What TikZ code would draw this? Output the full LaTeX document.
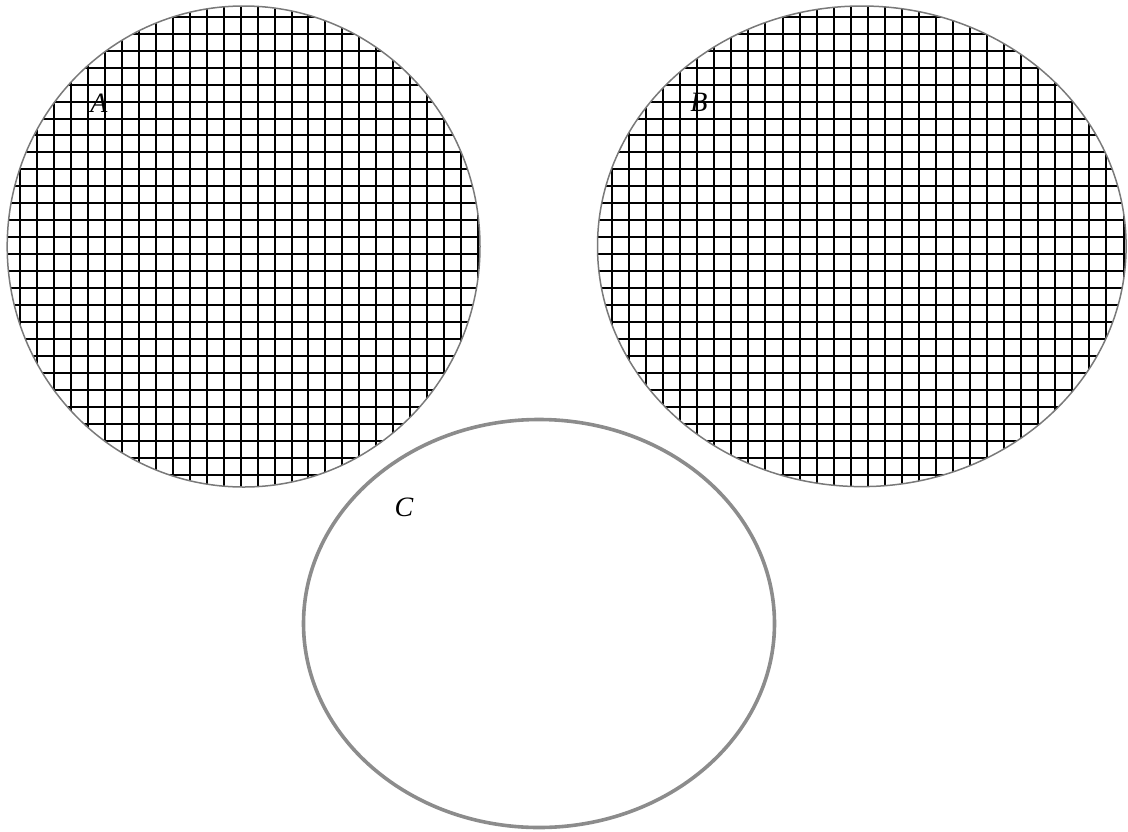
\documentclass[tikz,border=0pt]{standalone}
\usepackage{fontspec}
\setmainfont{Liberation Serif}
\begin{document}
\begin{tikzpicture}[x=1pt,y=-1pt,
  gridline/.style={black,line width=2.1pt},
  thinrim/.style={draw=gray!95!black,line width=1.5pt},
  thickrim/.style={draw=gray!90!white,line width=3.6pt},
  lbl/.style={font=\fontsize{28}{30}\selectfont\itshape,inner sep=0pt}]
\useasboundingbox (0,0) rectangle (1128,831);
% Ellipse A with grid
\begin{scope}
  \clip (243.6,246.5) ellipse [x radius=236.4, y radius=240.5];
  \foreach \k in {-1,...,28} {
    \pgfmathsetmacro{\gx}{round(20+16.97*\k)}
    \pgfmathsetmacro{\gy}{round(16.7+16.97*\k)}
    \draw[gridline] (\gx,0) -- (\gx,500);
    \draw[gridline] (0,\gy) -- (500,\gy);
  }
\end{scope}
\draw[thinrim] (243.6,246.5) ellipse [x radius=236.4, y radius=240.5];
% Ellipse B with grid
\begin{scope}
  \clip (861.8,246.3) ellipse [x radius=264.3, y radius=240.3];
  \foreach \k in {-1,...,31} {
    \pgfmathsetmacro{\gx}{round(612+17.05*\k)}
    \draw[gridline] (\gx,0) -- (\gx,500);
  }
  \foreach \k in {-1,...,28} {
    \pgfmathsetmacro{\gy}{round(16.7+16.97*\k)}
    \draw[gridline] (590,\gy) -- (1128,\gy);
  }
\end{scope}
\draw[thinrim] (861.8,246.3) ellipse [x radius=264.3, y radius=240.3];
% Ellipse C
\draw[thickrim] (539,623.5) ellipse [x radius=235.5, y radius=204];
% labels
\node[lbl] (A) at (99,103) {A};
\node[lbl] (B) at (699,102) {B};
\node[lbl] (C) at (404,507) {C};
\end{tikzpicture}
\end{document}
